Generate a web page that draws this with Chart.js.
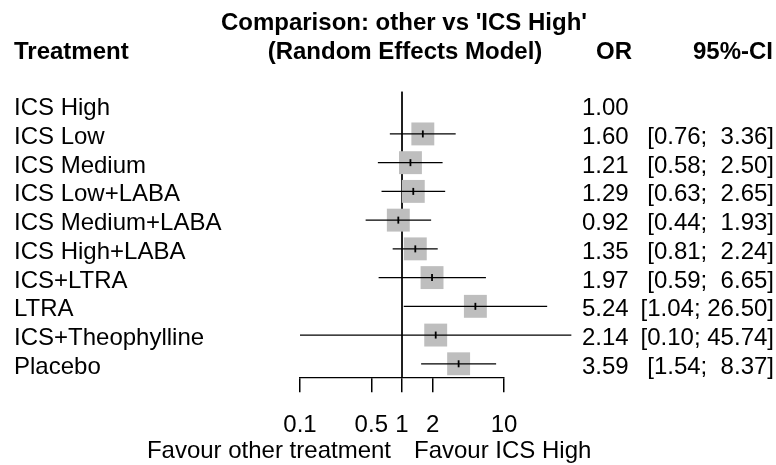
<!DOCTYPE html>
<html><head><meta charset="utf-8">
<script src="https://cdn.jsdelivr.net/npm/chart.js@4/dist/chart.umd.min.js"></script>
<style>html,body{margin:0;padding:0;background:#fff;}#wrap{width:776px;height:465px;position:relative;}</style>
</head><body><div id="wrap"><canvas id="c" width="776" height="465"></canvas></div>
<script>
const treatments = ['ICS High','ICS Low','ICS Medium','ICS Low+LABA','ICS Medium+LABA','ICS High+LABA','ICS+LTRA','LTRA','ICS+Theophylline','Placebo'];
const oddsRatios = [1.00,1.60,1.21,1.29,0.92,1.35,1.97,5.24,2.14,3.59];
const ciLower = [null,0.76,0.58,0.63,0.44,0.81,0.59,1.04,0.10,1.54];
const ciUpper = [null,3.36,2.50,2.65,1.93,2.24,6.65,26.50,45.74,8.37];
const xTicks = [0.1,0.5,1,2,10];
const titleLines = ["Comparison: other vs 'ICS High'", "(Random Effects Model)"];
const favourLabels = ['Favour other treatment', 'Favour ICS High'];

const FONT = "'Liberation Sans', Arial, sans-serif";
const Y_MIN = -0.47, Y_MAX = 9.47;

const datasets = [];
// reference line at OR = 1
datasets.push({type:'line', data:[{x:1,y:Y_MIN},{x:1,y:Y_MAX}], borderColor:'#000', borderWidth:1, pointRadius:0, order:10, clip:false});
// squares, CI lines, median ticks
const sq = [], ticksPts = [];
for (let i = 0; i < treatments.length; i++) {
  if (ciLower[i] === null) continue;
  sq.push({x:oddsRatios[i], y:i});
  ticksPts.push({x:oddsRatios[i], y:i});
  datasets.push({type:'line', data:[{x:ciLower[i],y:i},{x:ciUpper[i],y:i}], borderColor:'#000', borderWidth:1.3, pointRadius:0, order:1, clip:false});
}
datasets.push({type:'scatter', data:sq, pointStyle:'rect', pointRadius:16.2, backgroundColor:'#BEBEBE', borderWidth:0, borderColor:'rgba(0,0,0,0)', order:5, clip:false});
datasets.push({type:'scatter', data:ticksPts, pointStyle:'line', rotation:90, pointRadius:3.5, borderWidth:1.8, borderColor:'#000', backgroundColor:'#000', order:0, clip:false});

const textPlugin = {
  id:'texts',
  afterDraw(chart) {
    const ctx = chart.ctx, ys = chart.scales.y;
    ctx.save();
    ctx.fillStyle = '#000';
    ctx.textBaseline = 'alphabetic';
    ctx.font = 'bold 24px ' + FONT;
    ctx.textAlign = 'center';
    ctx.fillText(titleLines[0], 404, 29.5);
    ctx.fillText(titleLines[1], 405, 59);
    ctx.textAlign = 'left';
    ctx.fillText('Treatment', 14, 59);
    ctx.textAlign = 'center';
    ctx.fillText('OR', 614, 59);
    ctx.textAlign = 'right';
    ctx.fillText('95%-CI', 773, 59);
    ctx.font = '24px ' + FONT;
    for (let i = 0; i < treatments.length; i++) {
      const y = ys.getPixelForValue(i) + 10;
      ctx.textAlign = 'left';
      ctx.fillText(treatments[i], 14, y);
      ctx.fillText(oddsRatios[i].toFixed(2), 582, y);
      if (ciLower[i] !== null) {
        ctx.textAlign = 'right';
        const txt = '[' + ciLower[i].toFixed(2) + '; ' + ciUpper[i].toFixed(2).padStart(5, ' ') + ']';
        ctx.fillText(txt, 774, y);
      }
    }
    const x1 = chart.scales.x.getPixelForValue(1);
    ctx.textAlign = 'right';
    ctx.fillText(favourLabels[0], x1 - 11, 458);
    ctx.textAlign = 'left';
    ctx.fillText(favourLabels[1], x1 + 12, 458);
    ctx.restore();
  }
};

new Chart(document.getElementById('c'), {
  type:'scatter',
  data:{datasets},
  options:{
    responsive:false, animation:false, devicePixelRatio:1,
    layout:{padding:{left:300, right:272, top:91.7, bottom:0}},
    plugins:{legend:{display:false}, tooltip:{enabled:false}, title:{display:false}},
    scales:{
      x:{type:'logarithmic', min:0.1, max:10, position:'bottom',
        afterBuildTicks:(s)=>{ s.ticks = xTicks.map(v=>({value:v})); },
        afterFit:(s)=>{ s.height = 87.7; },
        border:{display:true, color:'#000', width:1.3},
        grid:{drawOnChartArea:false, drawTicks:true, tickLength:15, color:'#000', lineWidth:1.5},
        ticks:{color:'#000', font:{family:FONT, size:24}, padding:19, autoSkip:false, maxRotation:0, minRotation:0,
          callback:(v)=>String(v)}
      },
      y:{type:'linear', reverse:true, min:Y_MIN, max:Y_MAX, display:false}
    }
  },
  plugins:[textPlugin]
});
</script></body></html>
